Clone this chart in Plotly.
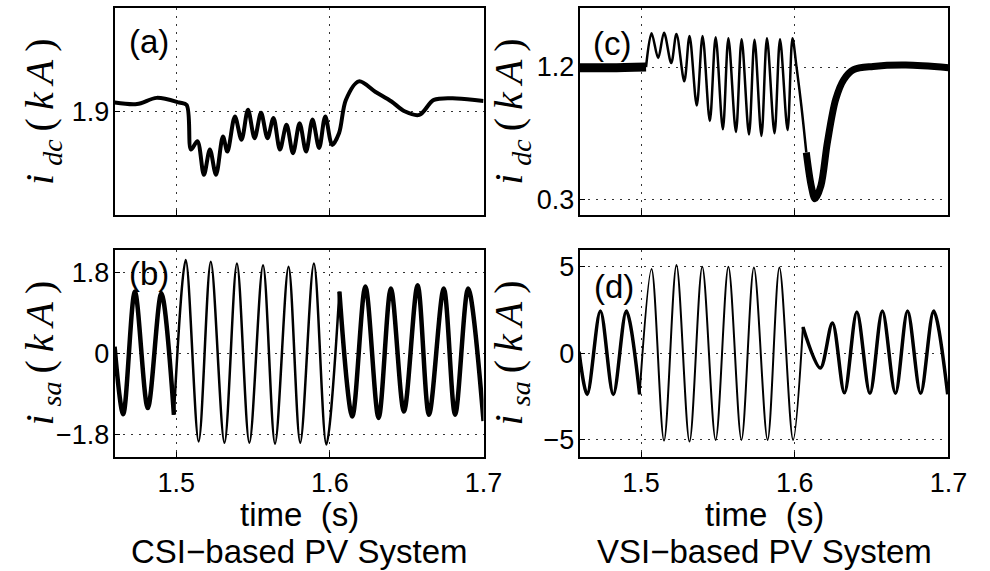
import plotly.graph_objects as go

# ---------------- data ----------------
# (a) CSI dc current, kA
a_t = [1.46, 1.4745, 1.4873, 1.502, 1.5068, 1.5096, 1.5138, 1.518, 1.5219, 1.5259,
       1.5304, 1.5333, 1.5382, 1.5425, 1.5467, 1.5510, 1.5552, 1.5594, 1.5633, 1.5675,
       1.5718, 1.5760, 1.5803, 1.5845, 1.5887, 1.5930, 1.5970, 1.6015, 1.606, 1.6104,
       1.6189, 1.6295, 1.6401, 1.6486, 1.6582, 1.6677, 1.6826, 1.70]
a_v = [1.917, 1.914, 1.926, 1.917, 1.912, 1.826, 1.842, 1.777, 1.826, 1.777,
       1.851, 1.822, 1.890, 1.845, 1.903, 1.848, 1.897, 1.848, 1.887, 1.826,
       1.874, 1.819, 1.877, 1.822, 1.884, 1.829, 1.890, 1.835, 1.858, 1.922,
       1.958, 1.938, 1.919, 1.900, 1.893, 1.922, 1.925, 1.920]

# (b) CSI phase-a current, kA
b_t = [1.4599, 1.4655, 1.4731, 1.4815, 1.4903, 1.4985, 1.5062, 1.5146, 1.5225, 1.5314,
       1.5395, 1.5476, 1.5565, 1.5643, 1.5731, 1.5807, 1.5896, 1.5977, 1.6062, 1.6146,
       1.6231, 1.6317, 1.6397, 1.6482, 1.6571, 1.6645, 1.6741, 1.6815, 1.6900, 1.70]
b_v = [0.15, -1.35, 1.37, -1.21, 1.33, -1.36, 2.07, -1.95, 2.03, -1.98,
       1.99, -1.98, 1.95, -2.0, 1.92, -1.98, 1.99, -2.02, 1.37, -1.40,
       1.48, -1.43, 1.44, -1.29, 1.51, -1.36, 1.44, -1.36, 1.44, -1.5]

# (c) VSI dc current, kA
c_t = [1.46, 1.48, 1.5032, 1.5068, 1.5111, 1.5149, 1.5196, 1.5230, 1.5281, 1.5315,
       1.5362, 1.5400, 1.5447, 1.5485, 1.5532, 1.5568, 1.5617, 1.5654, 1.5702, 1.5738,
       1.5783, 1.5819, 1.5868, 1.5904, 1.5953, 1.5985, 1.6011, 1.6043, 1.6075, 1.6107,
       1.6132, 1.6170, 1.6212, 1.6266, 1.6319, 1.6383, 1.6510, 1.6723, 1.70]
c_v = [1.195, 1.195, 1.20, 1.429, 1.261, 1.433, 1.227, 1.424, 1.103, 1.411,
       0.939, 1.411, 0.834, 1.402, 0.778, 1.395, 0.760, 1.388, 0.744, 1.384,
       0.733, 1.395, 0.751, 1.388, 0.773, 1.395, 1.204, 0.935, 0.621, 0.396,
       0.307, 0.396, 0.688, 0.980, 1.115, 1.182, 1.204, 1.213, 1.195]

# (d) VSI phase-a current, kA
d_t = [1.4596, 1.4649, 1.4735, 1.4819, 1.4904, 1.4990, 1.5068, 1.5149, 1.5230, 1.5315,
       1.5398, 1.5485, 1.5568, 1.5653, 1.5734, 1.5823, 1.5900, 1.5989, 1.6053, 1.6166,
       1.6245, 1.6323, 1.6404, 1.6489, 1.6570, 1.6655, 1.6734, 1.6819, 1.6904, 1.6995]
d_v = [0.1, -2.37, 2.45, -2.37, 2.45, -2.37, 4.87, -5.04, 5.11, -5.10,
       5.0, -5.0, 5.0, -5.0, 4.96, -5.0, 4.96, -5.0, 1.53, -0.85,
       1.76, -2.28, 2.39, -2.31, 2.45, -2.31, 2.45, -2.31, 2.45, -2.37]

x_ticks = [1.5, 1.6, 1.7]
a_ticks = [1.9]
b_ticks = [-1.8, 0, 1.8]
c_ticks = [0.3, 1.2]
d_ticks = [-5, 0, 5]

panel_tags = ["(a)", "(b)", "(c)", "(d)"]
x_title = "time  (s)"
col_titles = ["CSI\u2212based PV System", "VSI\u2212based PV System"]

# ---------------- figure ----------------
fig = go.Figure()

def add(t, v, xa, ya, segs):
    for (i0, i1, w) in segs:
        fig.add_trace(go.Scatter(
            x=t[i0:i1 + 1], y=v[i0:i1 + 1], xaxis=xa, yaxis=ya, mode="lines",
            line=dict(color="black", width=w, shape="spline", smoothing=0.9),
            showlegend=False, hoverinfo="skip"))

add(a_t, a_v, "x", "y", [(0, len(a_t) - 1, 4)])
add(b_t, b_v, "x2", "y2", [(0, 5, 4.5), (5, 18, 2.5), (18, len(b_t) - 1, 4.5)])
add(c_t, c_v, "x3", "y3", [(0, 2, 9), (2, 28, 2.5), (28, len(c_t) - 1, 7)])
add(d_t, d_v, "x4", "y4", [(0, 5, 3.5), (5, 18, 2), (18, len(d_t) - 1, 3.5)])

W, H = 990, 571
colL = [117 / W, 493 / W]
colR = [591 / W, 967 / W]
rowT = [1 - 215 / H, 1 - 8 / H]
rowB = [1 - 458 / H, 1 - 250 / H]

sans = "Liberation Sans, Arial, sans-serif"
serif = "Liberation Serif, Times New Roman, serif"
tickfont = dict(family=sans, size=27, color="black")
grid = dict(showgrid=True, gridcolor="#333", griddash="2px,6px", gridwidth=1)

def xax(domain, anchor, labels):
    return dict(domain=domain, anchor=anchor, range=[1.46, 1.70], tickvals=x_ticks,
                showticklabels=labels, ticktext=["1.5", "1.6", "1.7"],
                showline=True, linecolor="black", linewidth=2, mirror=True,
                ticks="inside", ticklen=5, tickcolor="black", zeroline=False,
                tickfont=tickfont, **grid)

def yax(domain, anchor, rng, tv):
    return dict(domain=domain, anchor=anchor, range=rng, tickvals=tv,
                showline=True, linecolor="black", linewidth=2, mirror=True,
                ticks="inside", ticklen=5, tickcolor="black", zeroline=False,
                tickfont=tickfont, ticklabelstandoff=-2, **grid)

fig.update_layout(
    width=W, height=H, margin=dict(l=0, r=0, t=0, b=0),
    paper_bgcolor="white", plot_bgcolor="white",
    xaxis=xax(colL, "y", False), yaxis=yax(rowT, "x", [1.7, 2.1], a_ticks),
    xaxis2=xax(colL, "y2", True), yaxis2=yax(rowB, "x2", [-2.3, 2.3], b_ticks),
    xaxis3=xax(colR, "y3", False), yaxis3=yax(rowT, "x3", [0.2, 1.6], c_ticks),
    xaxis4=xax(colR, "y4", True), yaxis4=yax(rowB, "x4", [-6, 6], d_ticks),
)

def ann(x, y, text, size, family, angle=0):
    fig.add_annotation(x=x / W, y=1 - y / H, xref="paper", yref="paper", text=text,
                       showarrow=False, xanchor="center", yanchor="middle",
                       textangle=angle, font=dict(family=family, size=size, color="black"))

# panel tags
ann(152, 42, panel_tags[0], 33, sans)
ann(152, 274, panel_tags[1], 33, sans)
ann(624, 44, panel_tags[2], 33, sans)
ann(626, 287, panel_tags[3], 33, sans)

# x titles and column captions
ann(305, 515, x_title, 33, sans)
ann(779, 515, x_title, 33, sans)
ann(305, 552, col_titles[0], 33, sans)
ann(779, 552, col_titles[1], 33, sans)

# y titles (math-style, loosely spaced like the LaTeX labels)
ts = "\u2009"
idc = "<i>i</i>" + ts + "<sub><i>dc</i></sub>" + ts + "(" + ts + "<i>k</i>" + ts + "<i>A</i>" + ts + ")"
isa = "<i>i</i>" + ts + "<sub><i>sa</i></sub>" + ts + "(" + ts + "<i>k</i>" + ts + "<i>A</i>" + ts + ")"
ann(43, 112, idc, 40, serif, -90)
ann(43, 354, isa, 40, serif, -90)
ann(521, 112, idc, 40, serif, -90)
ann(521, 354, isa, 40, serif, -90)

fig.write_html("out.html")
